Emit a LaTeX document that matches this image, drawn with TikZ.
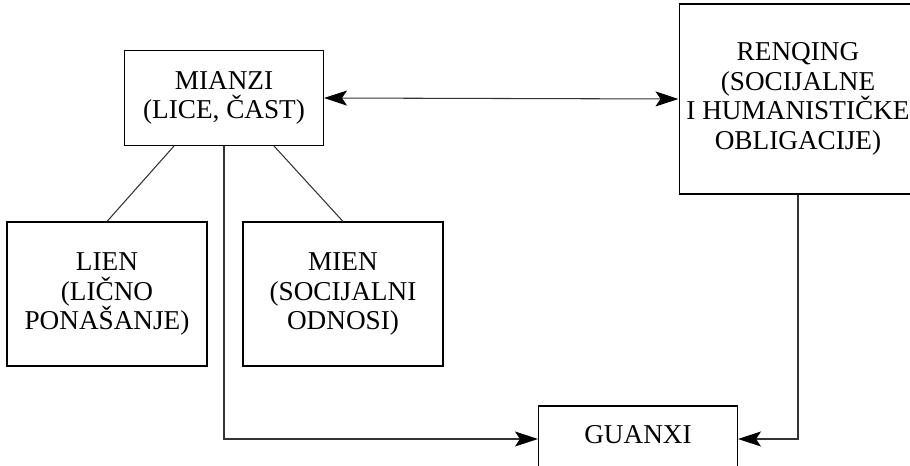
\documentclass[tikz,border=0pt]{standalone}
\usepackage{fontspec}
\setmainfont{Liberation Serif}
\usepackage{tikz}
\usetikzlibrary{arrows.meta,calc}

\begin{document}
\begin{tikzpicture}[x=0.02cm,y=-0.02cm,
vrh/.tip={Stealth[length=0.46cm,width=0.3cm,inset=0.1cm,black]},
kutija/.style={draw, line width=0.6pt, inner sep=0pt, align=center, font=\fontsize{15.5}{16.8}\selectfont},
veza/.style={draw=black!80, line width=0.6pt},
strelica/.style={veza, -vrh},
]
\useasboundingbox (0,0) rectangle (910,466);
\clip (0,0) rectangle (910,466);

\node[kutija, minimum width=3.98cm, minimum height=1.9cm] (mianzi) at (224,98){MIANZI\\(LICE, ČAST)};
\node[kutija, minimum width=4.76cm, minimum height=3.8cm] (renqing) at (798,99){RENQING\\(SOCIJALNE\\I HUMANISTIČKE\\OBLIGACIJE)};
\node[kutija, minimum width=4cm, minimum height=2.88cm] (lien) at (107,294){LIEN\\(LIČNO\\PONAŠANJE)};
\node[kutija, minimum width=4cm, minimum height=2.88cm] (mien) at (343,294){MIEN\\(SOCIJALNI\\ODNOSI)};
\node[kutija, minimum width=3.98cm, minimum height=1.32cm, text depth=5pt] (guanxi) at (638,439){GUANXI};

\draw[veza] ($(mianzi.south)!0.5!(mianzi.south west)$) -- (lien.north);
\draw[veza] ($(mianzi.south)!0.5!(mianzi.south east)$) -- (mien.north);

\draw[veza, vrh-vrh] (mianzi.east) -- (renqing.west);
\draw[strelica] (mianzi.south) |- (guanxi.west);
\draw[strelica] (renqing.south) |- (guanxi.east);

\end{tikzpicture}
\end{document}
